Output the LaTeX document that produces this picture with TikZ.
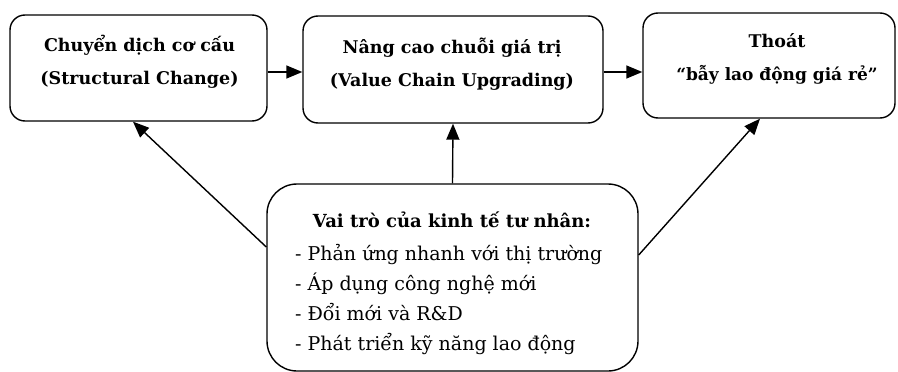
\documentclass[tikz,border=0pt]{standalone}
\usepackage{fontspec}
\setmainfont{DejaVu Serif}
\usetikzlibrary{arrows.meta,calc}

\tikzset{
  box/.style={draw=black, line width=1.4pt, rounded corners=15pt, fill=white},
  bigbox/.style={draw=black, line width=1.4pt, rounded corners=30pt, fill=white},
  headtext/.style={font=\fontsize{17.5}{20}\selectfont\bfseries, anchor=base, inner sep=0pt},
  titletext/.style={font=\fontsize{18}{20}\selectfont\bfseries, anchor=base, inner sep=0pt},
  listtext/.style={font=\fontsize{19}{22}\selectfont, anchor=base west, inner sep=0pt},
  link/.style={line width=1.4pt, -{Triangle[length=16pt,width=13pt]}}
}

\begin{document}
\begin{tikzpicture}[x=1pt, y=-1pt]
  \useasboundingbox (0,0) rectangle (898,372);

  % top row of stages
  \node[box, minimum width=257pt, minimum height=106pt] (b1) at (138.5,68) {};
  \node[box, minimum width=300pt, minimum height=107pt] (b2) at (453,69.5) {};
  \node[box, minimum width=252pt, minimum height=105pt] (b3) at (769,65.5) {};

  \node[headtext] (t1a) at (139.5,51) {Chuyển dịch cơ cấu};
  \node[headtext] (t1b) at (139.5,84) {(Structural Change)};
  \node[headtext] (t2a) at (452,53) {Nâng cao chuỗi giá trị};
  \node[headtext] (t2b) at (452,86) {(Value Chain Upgrading)};
  \node[headtext] (t3a) at (777,47) {Thoát};
  \node[headtext, font=\fontsize{17}{20}\selectfont\bfseries] (t3b) at (777,80) {“bẫy lao động giá rẻ”};

  % role of the private sector
  \node[bigbox, minimum width=371pt, minimum height=187pt] (b4) at (452.5,277.5) {};
  \node[titletext] (t4) at (452,227) {Vai trò của kinh tế tư nhân:};
  \node[listtext] (l1) at (295,260) {- Phản ứng nhanh với thị trường};
  \node[listtext] (l2) at (295,290) {- Áp dụng công nghệ mới};
  \node[listtext] (l3) at (295,320) {- Đổi mới và R\&D};
  \node[listtext] (l4) at (295,350) {- Phát triển kỹ năng lao động};

  % helper points for connector ends
  \coordinate (row) at (0,72);
  \coordinate (lo) at (0,247);
  \coordinate (ro) at (0,255);
  \coordinate (lt) at (133,0);
  \coordinate (rt) at (760,0);

  \draw[link] (b1.east |- row) -- (b2.west |- row);
  \draw[link] (b2.east |- row) -- (b3.west |- row);
  \draw[link] (b4.west |- lo) -- (lt |- b1.south);
  \draw[link] (b4.north) -- (b2.south);
  \draw[link] (b4.east |- ro) -- (rt |- b3.south);
\end{tikzpicture}
\end{document}
